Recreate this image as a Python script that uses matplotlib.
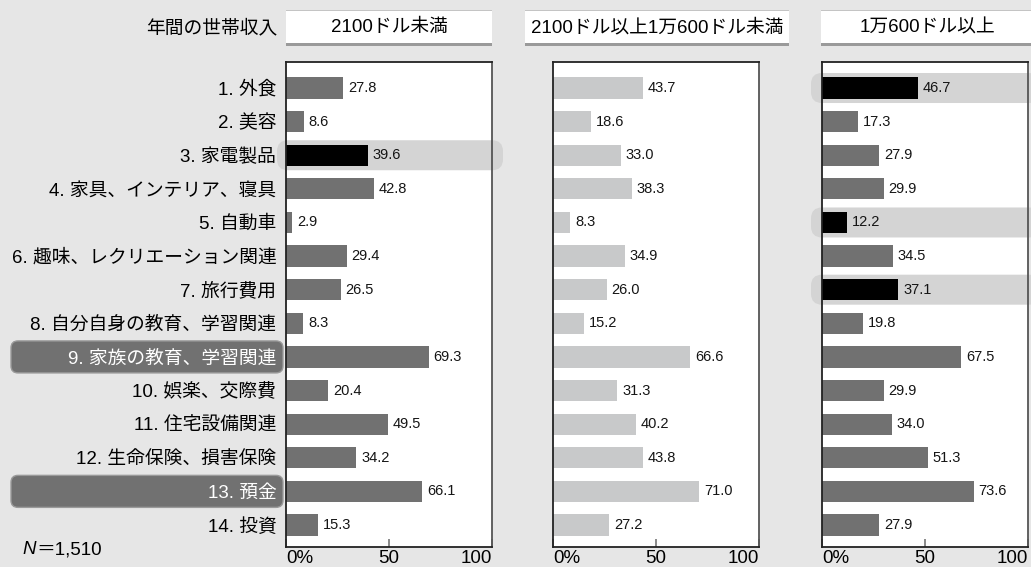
import matplotlib
matplotlib.use("Agg")
import matplotlib.pyplot as plt
from matplotlib.patches import FancyBboxPatch, Rectangle
from matplotlib.transforms import IdentityTransform, offset_copy

# Latin glyphs from Liberation Sans, Japanese glyphs from Noto Sans CJK JP
plt.rcParams['font.family'] = ['Liberation Sans', 'Noto Sans CJK JP', 'DejaVu Sans']

categories = ["1. 外食", "2. 美容", "3. 家電製品", "4. 家具、インテリア、寝具", "5. 自動車",
              "6. 趣味、レクリエーション関連", "7. 旅行費用", "8. 自分自身の教育、学習関連",
              "9. 家族の教育、学習関連", "10. 娯楽、交際費", "11. 住宅設備関連",
              "12. 生命保険、損害保険", "13. 預金", "14. 投資"]
income_groups = ["2100ドル未満", "2100ドル以上1万600ドル未満", "1万600ドル以上"]
low_income = [27.8, 8.6, 39.6, 42.8, 2.9, 29.4, 26.5, 8.3, 69.3, 20.4, 49.5, 34.2, 66.1, 15.3]
mid_income = [43.7, 18.6, 33.0, 38.3, 8.3, 34.9, 26.0, 15.2, 66.6, 31.3, 40.2, 43.8, 71.0, 27.2]
high_income = [46.7, 17.3, 27.9, 29.9, 12.2, 34.5, 37.1, 19.8, 67.5, 29.9, 34.0, 51.3, 73.6, 27.9]
emphasis = [[2], [], [0, 4, 6]]          # rows drawn in black within each panel
label_emphasis = [8, 12]                 # category labels set in a dark box
tick_values = [0, 50, 100]
tick_labels = ["0%", "50", "100"]
header_title = "年間の世帯収入"
sample_symbol = "N"
sample_value = "＝1,510"

W, H = 1031, 567
DPI = 100
BG = "#e6e6e6"
DARK = "#717171"
LIGHT = "#c8c9ca"
BAND = "#d4d4d4"
FS = 13.5

fig = plt.figure(figsize=(W / DPI, H / DPI), dpi=DPI, facecolor=BG)


def frac(x0, y_top, w, h):
    return [x0 / W, 1 - (y_top + h) / H, w / W, h / H]


ax_left = [286, 553, 822]
ax_width = 206
ax_top, ax_bottom = 62, 547
headers = [(286, 206), (525, 264), (821, 212)]
series = [low_income, mid_income, high_income]
base_color = [DARK, LIGHT, DARK]
band_span = [(277, 503), None, (811, 1040)]

n = len(categories)
rows = list(range(n))

fig.text(277 / W, 1 - 28 / H, header_title, ha="right", va="center", fontsize=FS)
fig.text(22 / W, 1 - 550 / H, sample_symbol, ha="left", va="center", fontsize=FS,
         style="italic", family=["Liberation Sans"])
fig.text(22 / W, 1 - 550 / H, sample_value, ha="left", va="center", fontsize=FS,
         transform=offset_copy(fig.transFigure, fig=fig, x=14, y=0, units="dots"))

axes = []
for p in range(3):
    ax = fig.add_axes(frac(ax_left[p], ax_top, ax_width, ax_bottom - ax_top))
    ax.set_xlim(0, 100)
    ax.set_ylim(13.655, -0.774)
    ax.set_facecolor("white")
    for s in ax.spines.values():
        s.set_color("#222222")
        s.set_linewidth(1.3)
    ax.spines["right"].set_color("#555555")
    axes.append(ax)

fig.canvas.draw()

for p, ax in enumerate(axes):
    vals = series[p]
    colors = ["black" if i in emphasis[p] else base_color[p] for i in rows]
    ax.barh(rows, vals, height=0.63, color=colors, zorder=2)
    for i, v in enumerate(vals):
        ax.annotate(f"{v:.1f}", xy=(v, i), xytext=(3.5, 0), textcoords="offset points",
                    ha="left", va="center", fontsize=10.5, family=["Liberation Sans"],
                    color="#151515", zorder=3)

    # highlighted rows: rounded grey band spanning the panel
    if band_span[p] is not None:
        x0, x1 = band_span[p]
        for i in emphasis[p]:
            _, yc = ax.transData.transform((0, i))
            bh = 30
            band = FancyBboxPatch((x0, yc - bh / 2), x1 - x0, bh,
                                  boxstyle="round,pad=0,rounding_size=11",
                                  transform=IdentityTransform(), facecolor=BAND,
                                  edgecolor="none", zorder=1, clip_on=False)
            ax.add_patch(band)

    ax.set_xticks(tick_values)
    ax.set_xticklabels(tick_labels, fontsize=FS)
    for lbl, ha in zip(ax.get_xticklabels(), ["left", "center", "right"]):
        lbl.set_ha(ha)
    ax.tick_params(axis="x", direction="in", length=6, color="#777777", width=1.2, pad=2.5)

    if p == 0:
        ax.set_yticks(rows)
        ax.set_yticklabels(categories, fontsize=FS)
        ax.tick_params(axis="y", length=0, pad=7)
        for i, lbl in enumerate(ax.get_yticklabels()):
            if i in label_emphasis:
                lbl.set_color("white")
                _, yc = ax.transData.transform((0, i))
                box = FancyBboxPatch((11, yc - 16), 272, 32,
                                     boxstyle="round,pad=0,rounding_size=7",
                                     transform=IdentityTransform(), facecolor=DARK,
                                     edgecolor="#9a9a9a", linewidth=1.0, zorder=0.5,
                                     clip_on=False)
                ax.add_patch(box)
    else:
        ax.set_yticks([])

    # panel header
    hx, hw = headers[p]
    fig.patches.append(Rectangle((hx / W, 1 - 44 / H), hw / W, 33 / H, transform=fig.transFigure,
                                 facecolor="white", edgecolor="none", zorder=-1))
    fig.patches.append(Rectangle((hx / W, 1 - 11 / H), hw / W, 1.2 / H, transform=fig.transFigure,
                                 facecolor="#c4c4c4", edgecolor="none", zorder=-1))
    fig.patches.append(Rectangle((hx / W, 1 - 45.5 / H), hw / W, 2.5 / H, transform=fig.transFigure,
                                 facecolor="#9a9a9a", edgecolor="none", zorder=-1))
    fig.text((hx + hw / 2) / W, 1 - 27.5 / H, income_groups[p], ha="center", va="center",
             fontsize=FS)

fig.savefig("out.png", dpi=DPI, facecolor=BG)
